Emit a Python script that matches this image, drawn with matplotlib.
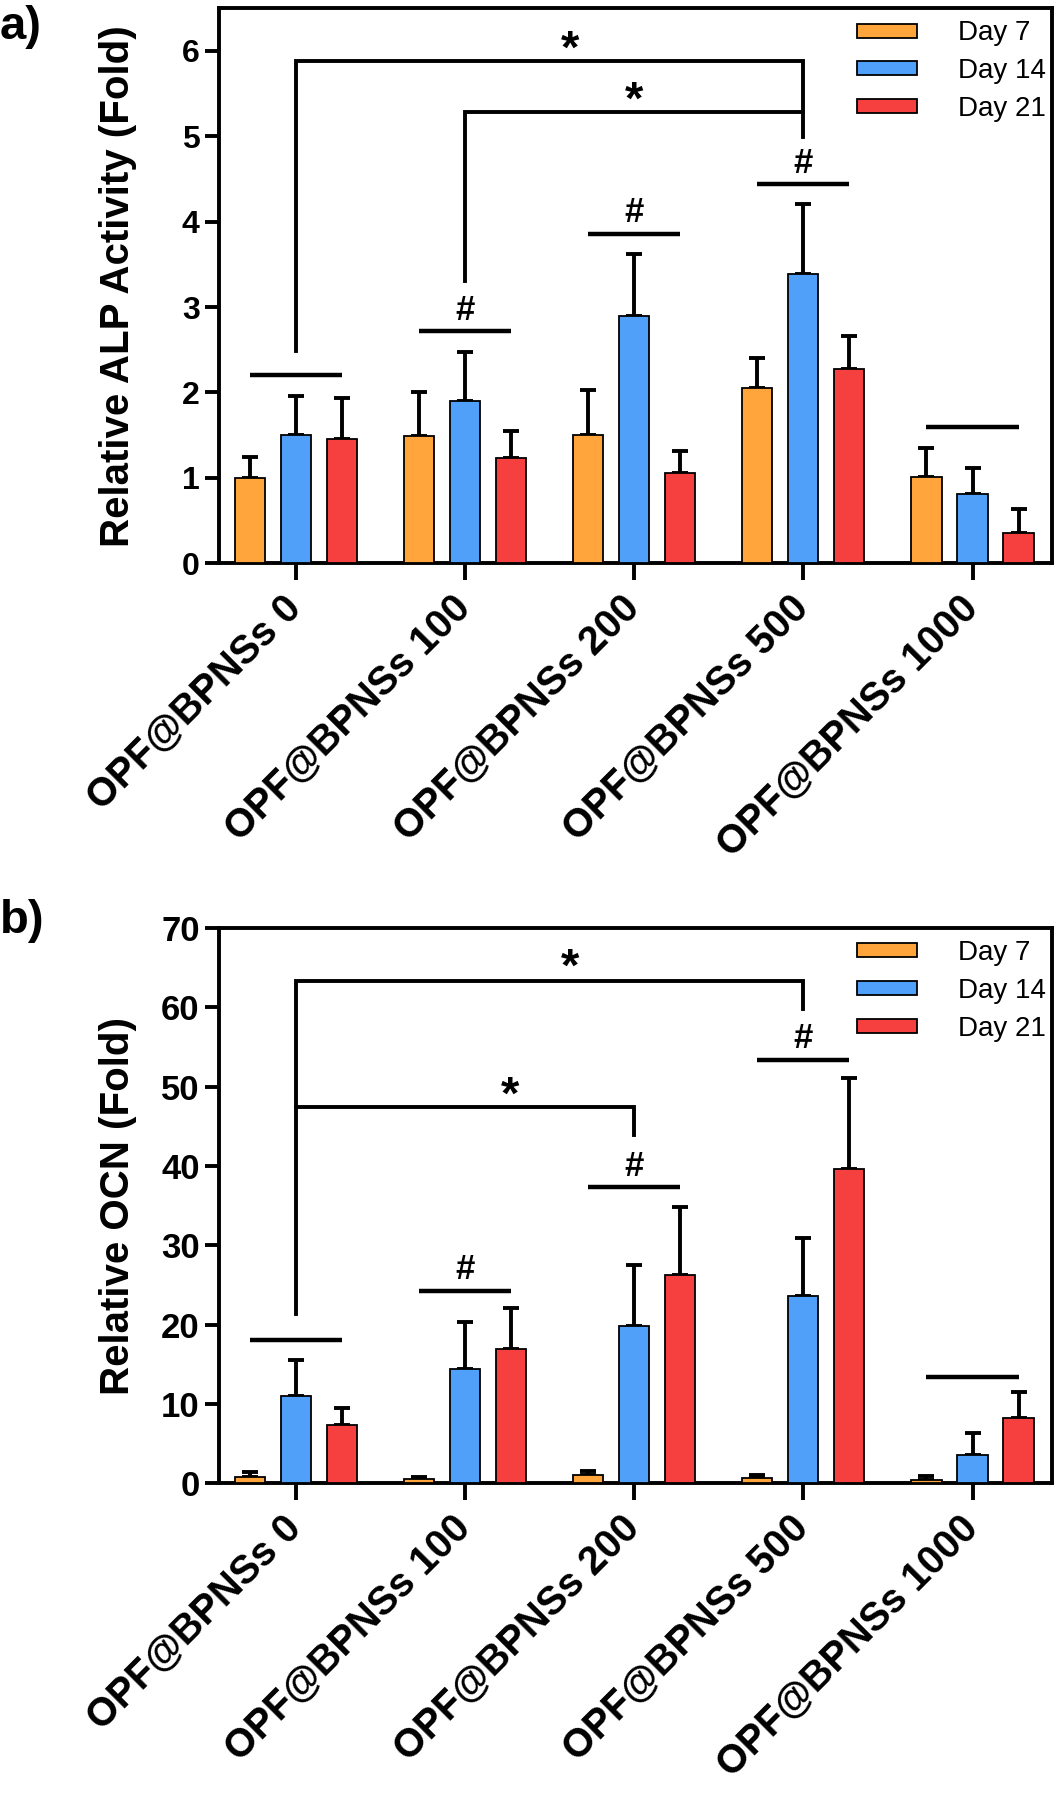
import numpy as np
import matplotlib.pyplot as plt
from matplotlib.transforms import offset_copy

plt.rcParams['font.family'] = ['Liberation Sans', 'DejaVu Sans']

groups = ['OPF@BPNSs 0', 'OPF@BPNSs 100', 'OPF@BPNSs 200', 'OPF@BPNSs 500', 'OPF@BPNSs 1000']
days = ['Day 7', 'Day 14', 'Day 21']
colors = ['#FFA53C', '#50A0FA', '#F5403F']

# ALP activity (fold), rows = Day 7 / 14 / 21
alp_mean = [[1.00, 1.49, 1.50, 2.05, 1.01],
            [1.50, 1.90, 2.90, 3.39, 0.81],
            [1.45, 1.23, 1.06, 2.27, 0.35]]
alp_err = [[0.25, 0.52, 0.53, 0.35, 0.34],
           [0.46, 0.57, 0.72, 0.82, 0.31],
           [0.49, 0.32, 0.26, 0.39, 0.29]]

# OCN (fold)
ocn_mean = [[0.85, 0.50, 1.00, 0.65, 0.42],
            [11.05, 14.36, 19.9, 23.6, 3.57],
            [7.31, 16.9, 26.3, 39.6, 8.27]]
ocn_err = [[0.55, 0.35, 0.50, 0.40, 0.50],
           [4.55, 5.94, 7.6, 7.3, 2.73],
           [2.15, 5.2, 8.6, 11.5, 3.28]]

# group-level lines (group, y, mark)
alp_lines = [(0, 2.21, ''), (1, 2.72, '#'), (2, 3.86, '#'), (3, 4.44, '#'), (4, 1.59, '')]
ocn_lines = [(0, 18.1, ''), (1, 24.25, '#'), (2, 37.3, '#'), (3, 53.4, '#'), (4, 13.45, '')]
# brackets: (from group, to group, left end, top, right end, star x, star y)
alp_brackets = [(0, 3, 2.48, 5.88, 4.99, 1.62, 6.13),
                (1, 3, 3.30, 5.28, 5.28, 2.0, 5.53)]
ocn_brackets = [(0, 3, 21.3, 63.3, 59.8, 1.62, 66.2),
                (0, 2, 47.4, 47.4, 43.9, 1.27, 50.05)]

fig = plt.figure(figsize=(10.57, 18), dpi=100)
ax_a = fig.add_axes([0.2072, 0.6871, 0.7881, 0.3083])
ax_b = fig.add_axes([0.2072, 0.1759, 0.7881, 0.3085])

x = np.arange(len(groups))
off = 0.272
w = 0.178
lw = 2.8


def draw(ax, means, errs, lines, brackets, ymax, ystep, ylabel, hash_pad, ytick_size):
    for i in range(3):
        xs = x + (i - 1) * off
        ax.bar(xs, means[i], w, color=colors[i], edgecolor='black', linewidth=1.3,
               zorder=3, label=days[i])
        ax.errorbar(xs, means[i], yerr=[np.zeros(5), errs[i]], fmt='none',
                    ecolor='black', elinewidth=lw, capsize=6, capthick=lw, zorder=2)
    for g, y, mark in lines:
        ax.plot([g - off, g + off], [y, y], color='black', lw=3.2, solid_capstyle='butt')
        if mark:
            ax.text(g, y + hash_pad, mark, ha='center', va='bottom', fontsize=25,
                    fontweight='bold')
    star_tr = offset_copy(ax.transData, fig=fig, x=0, y=-7.5, units='points')
    for g0, g1, yl, yt, yr, sx, sy in brackets:
        ax.plot([g0, g0, g1, g1], [yl, yt, yt, yr], color='black', lw=lw,
                solid_joinstyle='miter')
        ax.text(sx, sy, '*', ha='center', va='center', fontsize=34, fontweight='bold',
                transform=star_tr)

    ax.set_xlim(-0.453, 4.47)
    ax.set_ylim(0, ymax)
    ax.set_yticks(np.arange(0, ymax + 0.01, ystep))
    ax.set_xticks(x)
    ax.set_xticklabels(groups, rotation=45, ha='right', va='center',
                       rotation_mode='anchor', fontsize=28.5, fontweight='bold')
    for t in ax.get_yticklabels():
        t.set_fontweight('bold')
        t.set_fontsize(ytick_size)
    ax.set_ylabel(ylabel, fontsize=29, fontweight='bold')
    ax.yaxis.set_label_coords(-0.099, 0.5)
    for s in ax.spines.values():
        s.set_linewidth(lw)
    ax.tick_params(axis='both', width=lw, length=10, direction='out', pad=4)
    ax.tick_params(axis='x', length=12, pad=16)
    ax.legend(loc='upper left', bbox_to_anchor=(0.766, 0.978), frameon=False,
              fontsize=20, handlelength=2.15, handleheight=0.4,
              handletextpad=1.5, labelspacing=0.42, borderpad=0, borderaxespad=0)


draw(ax_a, alp_mean, alp_err, alp_lines, alp_brackets, 6.5, 1,
     'Relative ALP Activity (Fold)', 0.05, 23)
draw(ax_b, ocn_mean, ocn_err, ocn_lines, ocn_brackets, 70, 10,
     'Relative OCN (Fold)', 0.6, 25)

fig.text(0.0, 1 - 27 / 1800, 'a)', fontsize=34, fontweight='bold', va='center')
fig.text(0.0, 1 - 921 / 1800, 'b)', fontsize=34, fontweight='bold', va='center')

fig.savefig('out.png', dpi=100)
